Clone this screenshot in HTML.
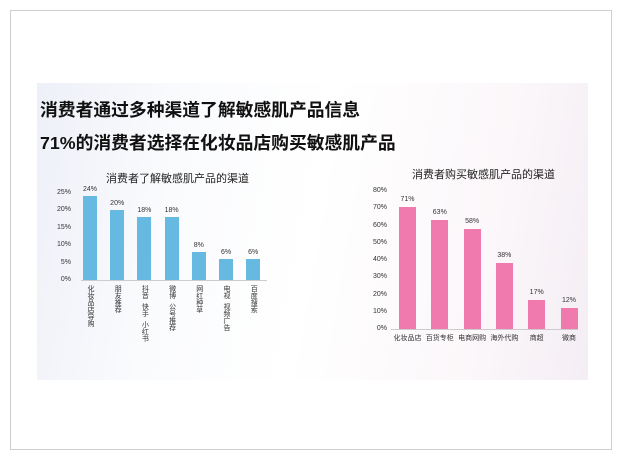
<!DOCTYPE html>
<html><head><meta charset="utf-8"><style>
body{margin:0;background:#fff;width:621px;height:459px;position:relative;overflow:hidden;font-family:"Liberation Sans","Noto Sans CJK SC",sans-serif}
.frame{position:absolute;left:10px;top:10px;width:600px;height:438px;border:1px solid #cfcfcf}
.card{position:absolute;left:37px;top:83px;width:551px;height:297px;background:linear-gradient(100deg,#eef0f8 0%,#fafbfd 25%,#fff 50%,#fbf7fa 80%,#f4eef4 100%)}
.t{position:absolute;font-weight:bold;font-size:17.8px;color:#111;left:40px}
.ct{position:absolute;font-size:11px;color:#222}
.yl{position:absolute;font-size:7px;color:#333;text-align:right;width:30px}
.bar{position:absolute}
.v{position:absolute;font-size:7px;color:#333;text-align:center;width:30px}
.xl{position:absolute;font-size:7px;color:#333;writing-mode:vertical-rl;white-space:pre;line-height:8px}
.xr{position:absolute;font-size:7px;color:#333;text-align:center;width:40px}
</style></head><body>
<div class="frame"></div>
<div class="card"></div>
<div class="t" style="top:96px">消费者通过多种渠道了解敏感肌产品信息</div>
<div class="t" style="top:129px">71%的消费者选择在化妆品店购买敏感肌产品</div>
<div class="ct" style="left:106px;top:170px">消费者了解敏感肌产品的渠道</div>
<div class="ct" style="left:412px;top:166px">消费者购买敏感肌产品的渠道</div>
<div style="position:absolute;left:81px;top:280px;width:186px;height:1px;background:#ccc"></div>
<div style="position:absolute;left:391px;top:329px;width:187px;height:1px;background:#ccc"></div>
<div id="L"></div><div id="R"></div>
<script>
var h='';
[0,5,10,15,20,25].forEach(function(v){h+='<div class="yl" style="left:41px;top:'+(276-v*3.48)+'px">'+v+'%</div>'});
var d=[[24,'化妆品店导购'],[20,'朋友推荐'],[18,'抖音  快手  小红书'],[18,'微博  公号推荐'],[8,'网红种草'],[6,'电视  视频广告'],[6,'百度搜索']];
d.forEach(function(a,i){var x=83+i*27.2,hh=a[0]*3.48;
h+='<div class="bar" style="left:'+x+'px;top:'+(280-hh)+'px;width:14px;height:'+hh+'px;background:#66b9e0"></div>';
h+='<div class="v" style="left:'+(x-8)+'px;top:'+(280-hh-10)+'px">'+a[0]+'%</div>';
h+='<div class="xl" style="left:'+(x+3)+'px;top:285px">'+a[1]+'</div>';});
document.getElementById('L').innerHTML=h;h='';
for(var v=0;v<=80;v+=10)h+='<div class="yl" style="left:357px;top:'+(325-v*1.725)+'px">'+v+'%</div>';
var r=[[71,'化妆品店'],[63,'百货专柜'],[58,'电商网购'],[38,'海外代购'],[17,'商超'],[12,'微商']];
r.forEach(function(a,i){var x=399+i*32.3,hh=a[0]*1.725;
h+='<div class="bar" style="left:'+x+'px;top:'+(329-hh)+'px;width:17px;height:'+hh+'px;background:#f07aae"></div>';
h+='<div class="v" style="left:'+(x-6.5)+'px;top:'+(329-hh-11)+'px">'+a[0]+'%</div>';
h+='<div class="xr" style="left:'+(x-11.5)+'px;top:333px">'+a[1]+'</div>';});
document.getElementById('R').innerHTML=h;
</script>
</body></html>
